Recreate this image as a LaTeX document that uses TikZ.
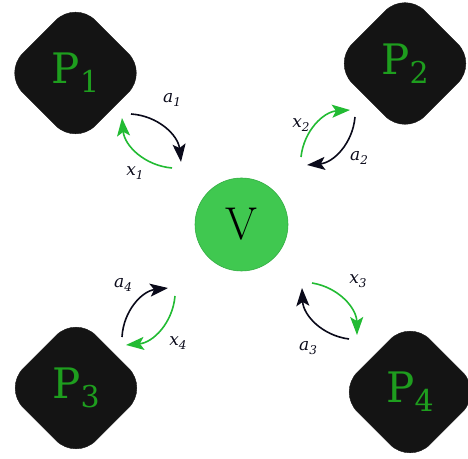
\documentclass[tikz,border=0pt]{standalone}
\usepackage{fontspec}
\usepackage{tikz}
\usetikzlibrary{arrows.meta,shapes.geometric}
\newfontfamily\pfont{DejaVu Serif}
\definecolor{pgreen}{HTML}{1E9E1E}
\definecolor{vgreen}{HTML}{40C850}
\definecolor{vedge}{HTML}{34AD44}
\definecolor{agreen}{HTML}{22BB33}
\definecolor{aink}{HTML}{0A0A1A}
\definecolor{pdark}{HTML}{141414}
\tikzset{
  pbox/.style={shape=diamond, aspect=1, fill=pdark, draw=pdark,
    rounded corners=28pt, minimum width=145pt, minimum height=145pt,
    inner sep=0pt, text=pgreen, font=\pfont\fontsize{42}{42}\selectfont},
  vnode/.style={circle, fill=vgreen, draw=vedge, line width=0.6pt,
    minimum size=93pt, inner sep=0pt, font=\fontsize{46}{46}\selectfont},
  lbl/.style={font=\pfont\itshape\fontsize{17}{17}\selectfont, text=aink, inner sep=0pt},
  aflow/.style={-{Stealth[length=18pt, width=13pt, inset=4pt]}, line width=1.6pt, aink},
  xflow/.style={-{Stealth[length=18pt, width=13pt, inset=4pt]}, line width=1.6pt, agreen}
}
\newcommand{\psub}[1]{P\raisebox{-9pt}{\fontsize{30}{30}\selectfont #1}}
\newcommand{\vsub}[2]{#1\raisebox{-4pt}{\fontsize{12}{12}\selectfont #2}}

\begin{document}
\begin{tikzpicture}[x=1pt, y=1pt]
  \useasboundingbox (0,0) rectangle (468,458);

  % players and the verifier
  \node[pbox] (p1) at (75.5,385) {\psub{1}};
  \node[pbox] (p2) at (405,394.5) {\psub{2}};
  \node[pbox] (p3) at (76,70) {\psub{3}};
  \node[pbox] (p4) at (410,66) {\psub{4}};
  \node[vnode] (v) at (241.5,233.5) {V};

  % arrow end points
  \coordinate (a1s) at (131,344); \coordinate (a1e) at (181,296);
  \coordinate (x1s) at (172,290); \coordinate (x1e) at (122,340);
  \coordinate (x2s) at (301,301); \coordinate (x2e) at (350,348);
  \coordinate (a2s) at (355,341); \coordinate (a2e) at (307,293);
  \coordinate (a4s) at (122,121); \coordinate (a4e) at (168,170);
  \coordinate (x4s) at (175,162); \coordinate (x4e) at (126,113);
  \coordinate (x3s) at (312,175); \coordinate (x3e) at (357,123);
  \coordinate (a3s) at (349,119); \coordinate (a3e) at (302,170);

  % exchanges
  \draw[aflow] (a1s) to[bend left=40] (a1e);
  \draw[xflow] (x1s) to[bend left=40] (x1e);
  \draw[xflow] (x2s) to[bend left=40] (x2e);
  \draw[aflow] (a2s) to[bend left=40] (a2e);
  \draw[aflow] (a4s) to[bend left=40] (a4e);
  \draw[xflow] (x4s) to[bend left=40] (x4e);
  \draw[xflow] (x3s) to[bend left=40] (x3e);
  \draw[aflow] (a3s) to[bend left=40] (a3e);

  % labels
  \node[lbl] (la1) at (172,358) {\vsub{a}{1}};
  \node[lbl] (lx1) at (135,285) {\vsub{x}{1}};
  \node[lbl] (lx2) at (301,333) {\vsub{x}{2}};
  \node[lbl] (la2) at (359,300) {\vsub{a}{2}};
  \node[lbl] (la4) at (123,173) {\vsub{a}{4}};
  \node[lbl] (lx4) at (178,115) {\vsub{x}{4}};
  \node[lbl] (lx3) at (358,177) {\vsub{x}{3}};
  \node[lbl] (la3) at (308,110) {\vsub{a}{3}};
\end{tikzpicture}
\end{document}
